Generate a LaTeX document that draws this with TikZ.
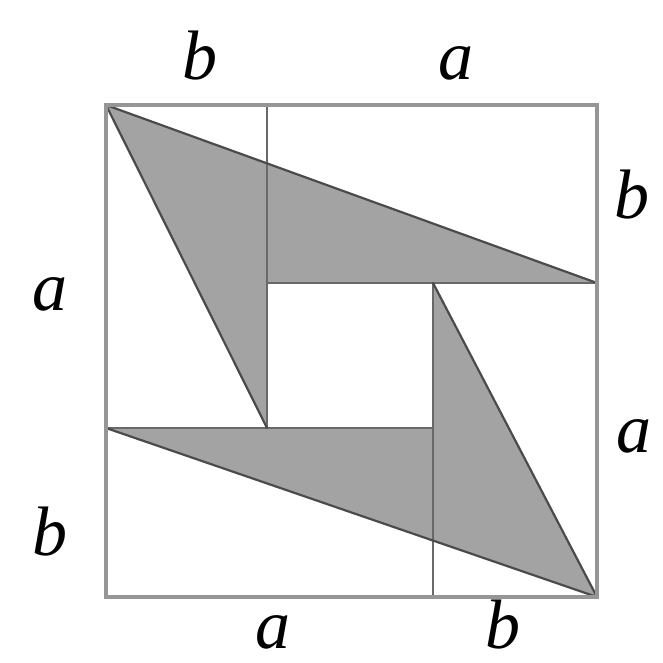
\documentclass[tikz,border=0pt]{standalone}
\usepackage{fontspec}
\setmainfont{Liberation Serif}
\definecolor{fillg}{RGB}{163,163,163}
\definecolor{frameg}{RGB}{150,150,150}
\definecolor{innerg}{RGB}{105,105,105}
\definecolor{edgeg}{RGB}{75,75,75}
\begin{document}
\begin{tikzpicture}[x=1pt,y=-1pt,
  frame/.style={draw=frameg,line width=3.5pt,line join=miter},
  inner/.style={draw=innerg,line width=2pt},
  edge/.style={draw=edgeg,line width=2.2pt,line cap=round},
  shade/.style={fill=fillg,draw=none},
  lbl/.style={anchor=base,inner sep=0pt,font=\fontsize{70}{70}\selectfont\itshape}]
\useasboundingbox (0,0) rectangle (662,663);
\coordinate (TL) at (106,105);
\coordinate (TR) at (597,105);
\coordinate (BR) at (597,597);
\coordinate (BL) at (106,597);
\coordinate (P) at (267,105);
\coordinate (Q) at (267,428);
\coordinate (R) at (597,283);
\coordinate (S) at (267,283);
\coordinate (T) at (433,283);
\coordinate (U) at (433,597);
\coordinate (V) at (106,428);
\coordinate (W) at (433,428);
% gray shapes
\path[shade] (TL) -- (R) -- (S) -- (Q) -- cycle;
\path[shade] (BR) -- (V) -- (W) -- (T) -- cycle;
% inner lines
\draw[inner] (P) -- (Q);
\draw[inner] (S) -- (R);
\draw[inner] (T) -- (U);
\draw[inner] (V) -- (W);
% triangle edges
\draw[edge] (TL) -- (R);
\draw[edge] (TL) -- (Q);
\draw[edge] (BR) -- (V);
\draw[edge] (BR) -- (T);
% frame
\draw[frame] (TL) -- (TR) -- (BR) -- (BL) -- cycle;
% labels
\node[lbl] (lb1) at (200,80) {b};
\node[lbl] (la1) at (456,80) {a};
\node[lbl] (lb2) at (632,218) {b};
\node[lbl] (la2) at (634,452) {a};
\node[lbl] (la3) at (50,310) {a};
\node[lbl] (lb3) at (50,555) {b};
\node[lbl] (la4) at (273,648) {a};
\node[lbl] (lb4) at (503,648) {b};
\end{tikzpicture}
\end{document}
